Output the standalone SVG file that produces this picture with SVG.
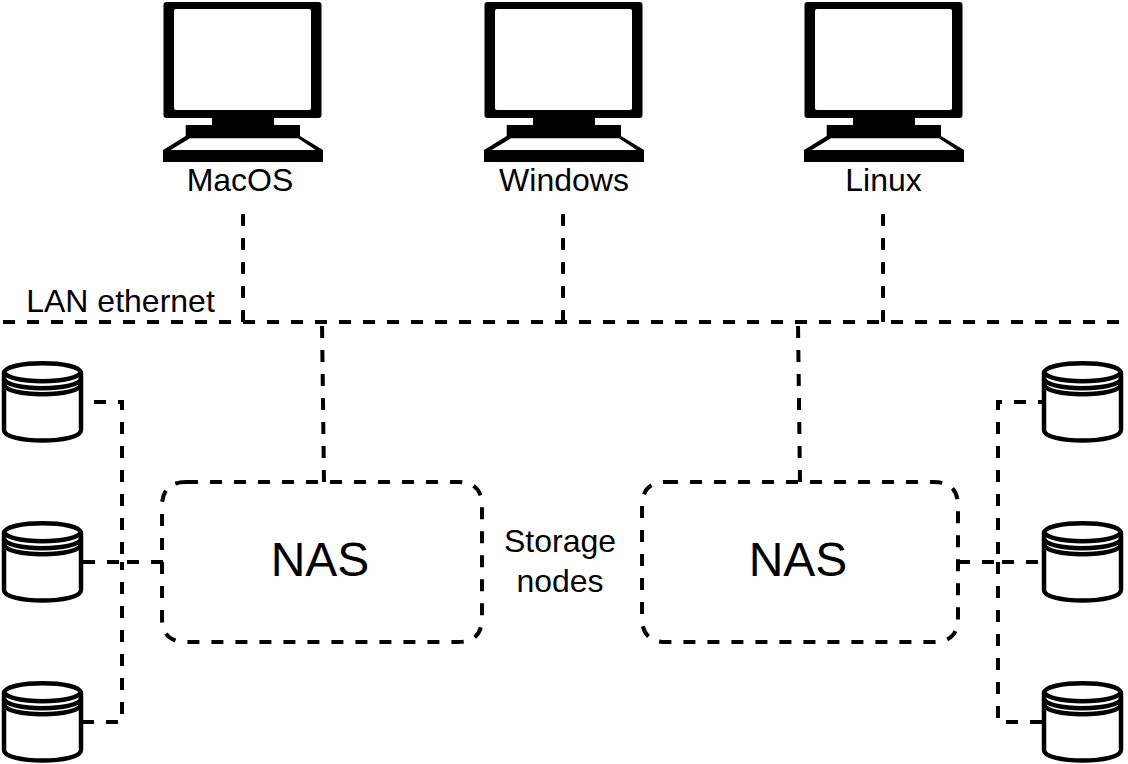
<svg xmlns="http://www.w3.org/2000/svg" width="1128" height="764" viewBox="0 0 1128 764">
<style>
.c{fill:none;stroke:#000;stroke-width:4;stroke-dasharray:12 12}
.n{fill:none;stroke:#000;stroke-width:4;stroke-dasharray:12 12}
.d{fill:#fff;stroke:#000;stroke-width:4.500}
.a{fill:none;stroke:#000;stroke-width:4.500}
text{font-family:"Liberation Sans",Arial,sans-serif;fill:#000;text-anchor:middle}
.l{font-size:32px}
.b{font-size:48px}
</style>
<defs>
<g id="pc">
<rect x="163.500" y="2" width="158" height="116" rx="3" fill="#000"/>
<rect x="174" y="9" width="137" height="101" rx="2" fill="#fff"/>
<rect x="212" y="118" width="62" height="8" fill="#000"/>
<path d="M185.700 125H300V136L323 150V162H163V150L185.700 136Z" fill="#000"/>
<path d="M190 138.300H298L315.700 150H170.700Z" fill="#fff"/>
</g>
<g id="db">
<path class="d" d="M4 373C4 360 81 360 81 373V430C81 444 4 444 4 430Z"/>
<path class="a" d="M4 371C4 384.500 81 384.500 81 371M4 378C4 391.500 81 391.500 81 378M4 384C4 397.500 81 397.500 81 384"/>
</g>
</defs>
<g id="connectors">
<path class="c" d="M3 322H1125"/>
<path class="c" d="M243 214V322"/>
<path class="c" d="M563 214V322"/>
<path class="c" d="M883 214V322"/>
<path class="c" d="M324 482L322 322"/>
<path class="c" d="M800 482L798 322"/>
<path class="c" stroke-dashoffset="12" d="M82 402H122V562"/>
<path class="c" d="M83 562H122"/>
<path class="c" d="M163 562H122"/>
<path class="c" d="M82 722H122V562"/>
<path class="c" stroke-dashoffset="8" d="M1042 402H998V562"/>
<path class="c" d="M1038 562H998"/>
<path class="c" d="M958 562H998"/>
<path class="c" d="M1042 722H998V562"/>
</g>
<g id="macos"><use href="#pc"/><text class="l" x="240" y="191">MacOS</text></g>
<g id="windows"><use href="#pc" x="321"/><text class="l" x="564" y="191">Windows</text></g>
<g id="linux"><use href="#pc" x="641"/><text class="l" x="883.500" y="191">Linux</text></g>
<g id="lan-label"><text class="l" x="120.500" y="312">LAN ethernet</text></g>
<g id="nas-left">
<path class="n" d="M186 482H458Q482 482 482 506V618Q482 642 458 642H186Q162 642 162 618V506Q162 482 186 482Z"/>
<text class="b" x="320" y="576">NAS</text>
</g>
<g id="nas-right">
<path class="n" d="M666 482H934Q958 482 958 506V618Q958 642 934 642H666Q642 642 642 618V506Q642 482 666 482Z"/>
<text class="b" x="798" y="576">NAS</text>
</g>
<g id="storage-label"><text class="l" x="560" y="552">Storage</text><text class="l" x="560" y="592">nodes</text></g>
<g id="disk-l1"><use href="#db"/></g>
<g id="disk-l2"><use href="#db" y="160"/></g>
<g id="disk-l3"><use href="#db" y="320"/></g>
<g id="disk-r1"><use href="#db" x="1040"/></g>
<g id="disk-r2"><use href="#db" x="1040" y="160"/></g>
<g id="disk-r3"><use href="#db" x="1040" y="320"/></g>
</svg>
